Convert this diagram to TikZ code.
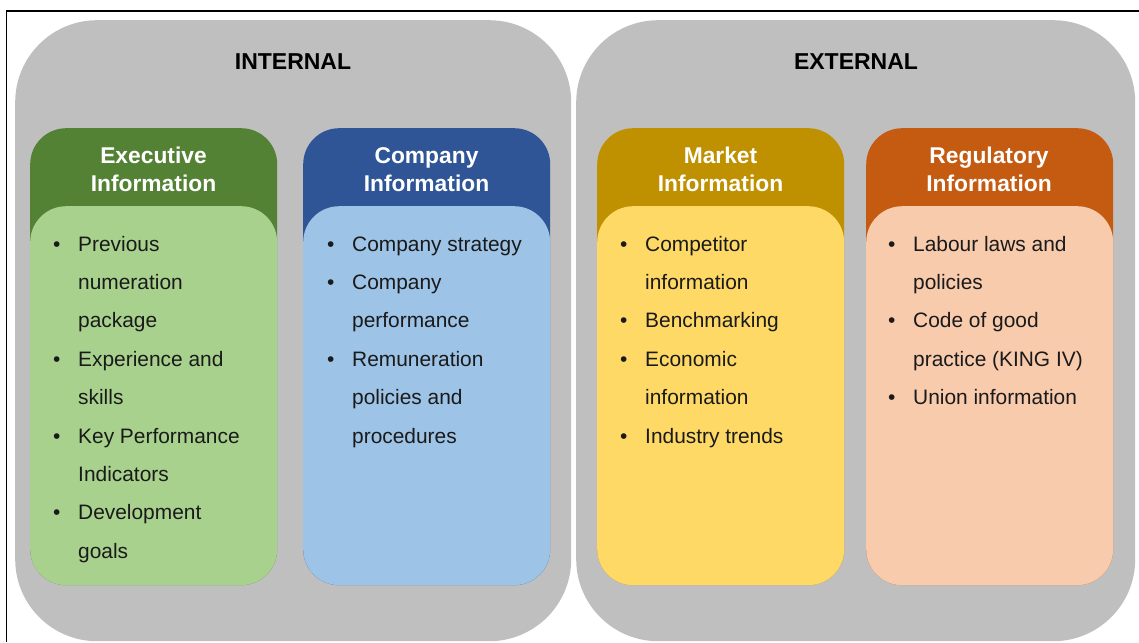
\documentclass[tikz,border=0pt]{standalone}
\usepackage{fontspec}
\setmainfont{Liberation Sans}
\definecolor{grayback}{HTML}{BFBFBF}
\definecolor{gdark}{HTML}{548235}
\definecolor{glight}{HTML}{A9D18E}
\definecolor{bdark}{HTML}{2F5597}
\definecolor{blight}{HTML}{9DC3E6}
\definecolor{ydark}{HTML}{BF9000}
\definecolor{ylight}{HTML}{FFD966}
\definecolor{odark}{HTML}{C55A11}
\definecolor{olight}{HTML}{F8CBAD}
\definecolor{txt}{HTML}{1A1A1A}
\newcommand{\bl}[1]{\makebox[24pt][l]{\hspace*{-1pt}\textbullet}#1}
\newcommand{\cl}[1]{\hspace*{24pt}#1}
\newcommand{\lst}[1]{\begin{tabular}[t]{@{}l@{}}#1\end{tabular}}
\newcommand{\hdr}[1]{\begin{tabular}[t]{@{}c@{}}#1\end{tabular}}
\tikzset{
  outerbox/.style={fill=grayback, rounded corners=82pt, anchor=north west, inner sep=0pt, minimum width=556pt, minimum height=621pt},
  headbox/.style={rounded corners=36pt, anchor=north west, inner sep=0pt, minimum width=247pt, minimum height=457pt},
  bodybox/.style={rounded corners=36pt, anchor=north west, inner sep=0pt, minimum width=247pt, minimum height=379pt},
  titletext/.style={font=\fontsize{23}{26}\selectfont\bfseries, text=black, anchor=base, inner sep=0pt},
  headtext/.style={font=\fontsize{22.8}{28}\selectfont\bfseries, text=white, anchor=base, inner sep=0pt},
  listtext/.style={font=\fontsize{20.9}{38.4}\selectfont, text=txt, anchor=base west, inner sep=0pt},
}
\begin{document}
\begin{tikzpicture}[x=1pt,y=-1pt]
\useasboundingbox (0,0) rectangle (1139,642);
\fill[white] (0,0) rectangle (1139,642);
\draw[line width=1.3pt] (6.5,642) -- (6.5,11) -- (1139,11);
% outer boxes
\node[outerbox] (int) at (15,20) {};
\node[outerbox, minimum width=559pt] (ext) at (576,20) {};
\node[titletext] (intT) at (293,69) {INTERNAL};
\node[titletext] (extT) at (856,69) {EXTERNAL};
% executive
\node[headbox, fill=gdark] (exH) at (30,128) {};
\node[bodybox, fill=glight] (exB) at (30,206) {};
\node[headtext] (exT) at (153.5,163) {\hdr{Executive\\Information}};
\node[listtext] (exL) at (54,251) {\lst{\bl{Previous}\\\cl{numeration}\\\cl{package}\\\bl{Experience and}\\\cl{skills}\\\bl{Key Performance}\\\cl{Indicators}\\\bl{Development}\\\cl{goals}}};
% company
\node[headbox, fill=bdark] (coH) at (303,128) {};
\node[bodybox, fill=blight] (coB) at (303,206) {};
\node[headtext] (coT) at (426.5,163) {\hdr{Company\\Information}};
\node[listtext] (coL) at (328,251) {\lst{\bl{Company strategy}\\\bl{Company}\\\cl{performance}\\\bl{Remuneration}\\\cl{policies and}\\\cl{procedures}}};
% market
\node[headbox, fill=ydark] (maH) at (597,128) {};
\node[bodybox, fill=ylight] (maB) at (597,206) {};
\node[headtext] (maT) at (720.5,163) {\hdr{Market\\Information}};
\node[listtext] (maL) at (621,251) {\lst{\bl{Competitor}\\\cl{information}\\\bl{Benchmarking}\\\bl{Economic}\\\cl{information}\\\bl{Industry trends}}};
% regulatory
\node[headbox, fill=odark] (reH) at (866,128) {};
\node[bodybox, fill=olight] (reB) at (866,206) {};
\node[headtext] (reT) at (989,163) {\hdr{Regulatory\\Information}};
\node[listtext] (reL) at (889,251) {\lst{\bl{Labour laws and}\\\cl{policies}\\\bl{Code of good}\\\cl{practice (KING IV)}\\\bl{Union information}}};
\end{tikzpicture}
\end{document}
